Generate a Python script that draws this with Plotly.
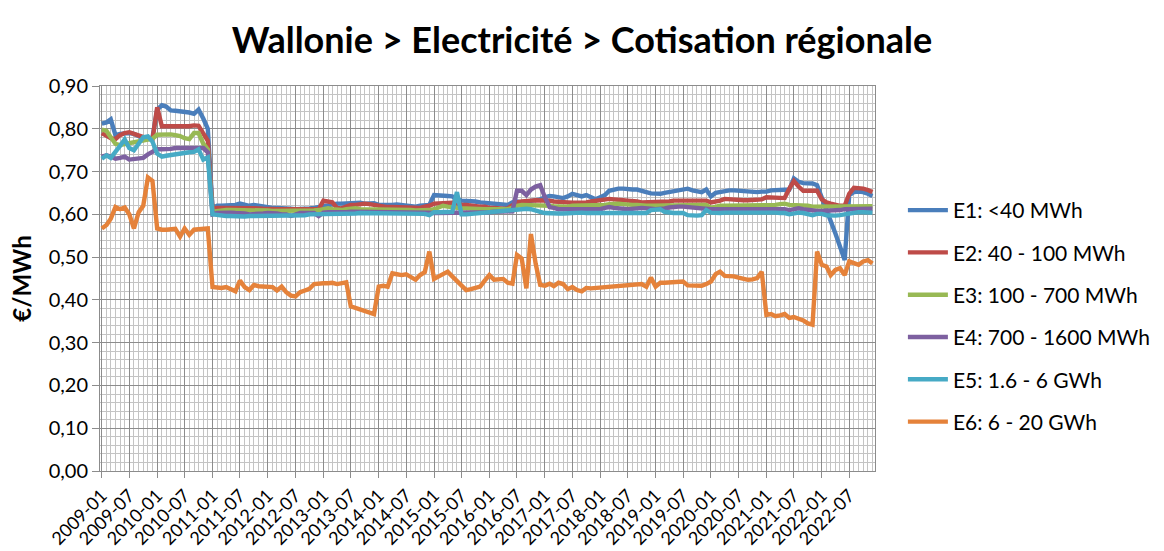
import plotly.graph_objects as go

# ---- categories: monthly, 2009-01 .. 2022-12 ----
months = [f"{y}-{m:02d}-01" for y in range(2009, 2023) for m in range(1, 13)]
tick_labels = [f"{y}-{m:02d}" for y in range(2009, 2023) for m in (1, 7)]
tick_dates = [f"{t}-01" for t in tick_labels]

series_names = ["E1: <40 MWh", "E2: 40 - 100 MWh", "E3: 100 - 700 MWh",
                "E4: 700 - 1600 MWh", "E5: 1.6 - 6 GWh", "E6: 6 - 20 GWh"]
colors = ["#4A7EBB", "#BE4B48", "#98B954", "#7D60A0", "#46AAC5", "#E5823A"]

e1 = [0.812, 0.815, 0.822, 0.785, 0.788, 0.79, 0.79, 0.788, 0.782, 0.778, 0.776, 0.78,
      0.845, 0.855, 0.852, 0.843, 0.842, 0.841, 0.841, 0.838, 0.835, 0.845, 0.824, 0.80,
      0.615, 0.62, 0.62, 0.62, 0.62, 0.622, 0.625, 0.622, 0.62, 0.622, 0.62, 0.618,
      0.618, 0.615, 0.615, 0.615, 0.615, 0.613, 0.612, 0.612, 0.613, 0.614, 0.615, 0.617,
      0.62, 0.62, 0.622, 0.625, 0.625, 0.626, 0.626, 0.627, 0.627, 0.625, 0.625, 0.626,
      0.622, 0.622, 0.62, 0.622, 0.623, 0.622, 0.622, 0.62, 0.618, 0.62, 0.62, 0.622,
      0.645, 0.645, 0.643, 0.643, 0.642, 0.635, 0.632, 0.632, 0.63, 0.63, 0.628, 0.627,
      0.625, 0.625, 0.624, 0.622, 0.622, 0.628, 0.63, 0.628, 0.63, 0.632, 0.635, 0.635,
      0.64, 0.643, 0.642, 0.64, 0.638, 0.642, 0.648, 0.645, 0.642, 0.645, 0.64, 0.635,
      0.64, 0.645, 0.655, 0.658, 0.66, 0.66, 0.658, 0.658, 0.658, 0.656, 0.652, 0.649,
      0.648, 0.648, 0.65, 0.652, 0.655, 0.658, 0.66, 0.66, 0.656, 0.653, 0.652, 0.658,
      0.642, 0.65, 0.652, 0.655, 0.656, 0.656, 0.655, 0.655, 0.654, 0.653, 0.652, 0.653,
      0.653, 0.656, 0.657, 0.657, 0.657, 0.658, 0.684, 0.676, 0.673, 0.673, 0.672, 0.668,
      0.64, 0.615, 0.585, 0.555, 0.525, 0.493, 0.645, 0.652, 0.653, 0.652, 0.648, 0.643]

e2 = [0.79, 0.785, 0.778, 0.776, 0.785, 0.79, 0.792, 0.788, 0.784, 0.78, 0.777, 0.775,
      0.85, 0.806, 0.805, 0.806, 0.806, 0.807, 0.806, 0.806, 0.808, 0.807, 0.79, 0.772,
      0.612, 0.615, 0.615, 0.615, 0.615, 0.615, 0.616, 0.615, 0.614, 0.614, 0.614, 0.613,
      0.612, 0.612, 0.612, 0.612, 0.612, 0.611, 0.611, 0.612, 0.612, 0.612, 0.612, 0.612,
      0.632, 0.63, 0.628, 0.615, 0.614, 0.618, 0.622, 0.622, 0.624, 0.625, 0.624, 0.622,
      0.62, 0.618, 0.617, 0.617, 0.617, 0.617, 0.617, 0.616, 0.615, 0.615, 0.618, 0.62,
      0.625, 0.626, 0.627, 0.628, 0.627, 0.625, 0.622, 0.622, 0.62, 0.62, 0.618, 0.618,
      0.615, 0.615, 0.613, 0.613, 0.614, 0.62, 0.628, 0.63, 0.632, 0.632, 0.633, 0.633,
      0.632, 0.632, 0.63, 0.63, 0.628, 0.628, 0.627, 0.627, 0.626, 0.628, 0.63, 0.632,
      0.633, 0.635, 0.636, 0.635, 0.635, 0.633, 0.632, 0.632, 0.63, 0.628, 0.628, 0.628,
      0.628, 0.628, 0.63, 0.63, 0.632, 0.632, 0.632, 0.63, 0.63, 0.63, 0.632, 0.632,
      0.628, 0.629, 0.632, 0.636, 0.635, 0.633, 0.633, 0.633, 0.633, 0.633, 0.633, 0.635,
      0.64, 0.64, 0.64, 0.64, 0.638, 0.66, 0.678, 0.665, 0.655, 0.655, 0.655, 0.655,
      0.635, 0.628, 0.625, 0.622, 0.62, 0.62, 0.648, 0.662, 0.662, 0.66, 0.657, 0.652]

e3 = [0.798, 0.795, 0.78, 0.765, 0.762, 0.764, 0.766, 0.768, 0.77, 0.773, 0.775, 0.777,
      0.786, 0.787, 0.787, 0.787, 0.785, 0.783, 0.778, 0.776, 0.79, 0.79, 0.765, 0.752,
      0.606, 0.608, 0.61, 0.61, 0.61, 0.61, 0.61, 0.611, 0.61, 0.61, 0.61, 0.609,
      0.609, 0.608, 0.608, 0.608, 0.608, 0.607, 0.607, 0.608, 0.608, 0.609, 0.609, 0.61,
      0.612, 0.614, 0.612, 0.61, 0.61, 0.612, 0.614, 0.614, 0.612, 0.612, 0.611, 0.611,
      0.61, 0.61, 0.61, 0.61, 0.61, 0.61, 0.61, 0.61, 0.609, 0.609, 0.61, 0.61,
      0.612, 0.615, 0.62, 0.618, 0.616, 0.615, 0.614, 0.614, 0.613, 0.613, 0.613, 0.612,
      0.612, 0.612, 0.612, 0.612, 0.612, 0.615, 0.62, 0.622, 0.622, 0.622, 0.622, 0.62,
      0.62, 0.62, 0.619, 0.618, 0.618, 0.618, 0.62, 0.62, 0.62, 0.62, 0.62, 0.62,
      0.62, 0.622, 0.624, 0.625, 0.625, 0.624, 0.622, 0.622, 0.622, 0.62, 0.62, 0.62,
      0.62, 0.62, 0.62, 0.62, 0.62, 0.62, 0.62, 0.62, 0.62, 0.622, 0.622, 0.622,
      0.615, 0.618, 0.62, 0.62, 0.62, 0.62, 0.62, 0.62, 0.62, 0.62, 0.62, 0.62,
      0.62, 0.62, 0.622, 0.624, 0.625, 0.622, 0.622, 0.62, 0.62, 0.62, 0.618, 0.618,
      0.617, 0.617, 0.617, 0.617, 0.618, 0.618, 0.618, 0.618, 0.618, 0.619, 0.619, 0.619]

e4 = [0.735, 0.738, 0.735, 0.73, 0.732, 0.735, 0.728, 0.73, 0.732, 0.732, 0.74, 0.745,
      0.752, 0.752, 0.752, 0.753, 0.755, 0.755, 0.755, 0.755, 0.754, 0.755, 0.755, 0.745,
      0.6, 0.603, 0.604, 0.604, 0.604, 0.603, 0.603, 0.602, 0.6, 0.6, 0.602, 0.602,
      0.603, 0.603, 0.602, 0.6, 0.6, 0.596, 0.6, 0.603, 0.603, 0.603, 0.603, 0.596,
      0.604, 0.605, 0.605, 0.603, 0.603, 0.605, 0.606, 0.606, 0.606, 0.605, 0.605, 0.605,
      0.605, 0.605, 0.605, 0.605, 0.605, 0.605, 0.605, 0.604, 0.604, 0.604, 0.604, 0.604,
      0.603, 0.603, 0.603, 0.603, 0.603, 0.604, 0.604, 0.604, 0.605, 0.605, 0.605, 0.605,
      0.605, 0.606, 0.606, 0.607, 0.607, 0.607, 0.655, 0.655, 0.645, 0.658, 0.665, 0.668,
      0.64, 0.617, 0.615, 0.612, 0.612, 0.612, 0.613, 0.614, 0.614, 0.613, 0.613, 0.612,
      0.612, 0.615, 0.617, 0.615, 0.613, 0.613, 0.612, 0.612, 0.614, 0.615, 0.615, 0.613,
      0.612, 0.612, 0.614, 0.616, 0.618, 0.618, 0.618, 0.617, 0.616, 0.614, 0.612, 0.612,
      0.612, 0.612, 0.612, 0.612, 0.612, 0.612, 0.613, 0.614, 0.614, 0.613, 0.613, 0.612,
      0.613, 0.612, 0.613, 0.614, 0.612, 0.61, 0.612, 0.614, 0.612, 0.61, 0.608, 0.608,
      0.608, 0.608, 0.608, 0.608, 0.61, 0.612, 0.612, 0.612, 0.613, 0.613, 0.613, 0.613]

e5 = [0.73, 0.738, 0.732, 0.745, 0.76, 0.775, 0.755, 0.75, 0.765, 0.78, 0.782, 0.77,
      0.742, 0.735, 0.737, 0.739, 0.741, 0.742, 0.744, 0.745, 0.746, 0.752, 0.728, 0.733,
      0.6, 0.598, 0.597, 0.596, 0.596, 0.595, 0.595, 0.595, 0.596, 0.596, 0.597, 0.597,
      0.597, 0.597, 0.598, 0.598, 0.598, 0.598, 0.598, 0.598, 0.598, 0.6, 0.6, 0.6,
      0.601, 0.601, 0.6, 0.6, 0.601, 0.602, 0.602, 0.602, 0.603, 0.603, 0.603, 0.603,
      0.603, 0.603, 0.603, 0.603, 0.603, 0.603, 0.603, 0.603, 0.603, 0.602, 0.601, 0.598,
      0.605, 0.605, 0.606, 0.606, 0.606, 0.652, 0.6, 0.6, 0.601, 0.602, 0.603, 0.604,
      0.607, 0.607, 0.608, 0.608, 0.609, 0.61, 0.612, 0.613, 0.613, 0.612, 0.61, 0.606,
      0.603, 0.602, 0.602, 0.602, 0.602, 0.603, 0.604, 0.604, 0.604, 0.603, 0.603, 0.603,
      0.603, 0.603, 0.603, 0.602, 0.602, 0.602, 0.602, 0.602, 0.603, 0.603, 0.603, 0.61,
      0.61, 0.612, 0.606, 0.604, 0.603, 0.603, 0.603, 0.598, 0.597, 0.597, 0.598, 0.61,
      0.604, 0.603, 0.603, 0.604, 0.604, 0.604, 0.604, 0.604, 0.604, 0.605, 0.606, 0.606,
      0.604, 0.604, 0.604, 0.603, 0.603, 0.6, 0.603, 0.604, 0.603, 0.601, 0.598, 0.601,
      0.601, 0.598, 0.597, 0.597, 0.598, 0.6, 0.603, 0.605, 0.605, 0.605, 0.605, 0.604]

e6 = [0.567, 0.575, 0.59, 0.617, 0.612, 0.616, 0.6, 0.567, 0.605, 0.62, 0.686, 0.678,
      0.567, 0.564, 0.564, 0.566, 0.566, 0.548, 0.567, 0.552, 0.564, 0.565, 0.566, 0.567,
      0.43, 0.428, 0.428, 0.43, 0.426, 0.42, 0.445, 0.43, 0.423, 0.435, 0.432, 0.431,
      0.432, 0.43, 0.422, 0.431, 0.418, 0.41, 0.408, 0.418, 0.422, 0.426, 0.437, 0.439,
      0.439, 0.439, 0.44, 0.437, 0.44, 0.441, 0.385, 0.381, 0.378, 0.374, 0.369, 0.367,
      0.431, 0.433, 0.431, 0.462, 0.46, 0.458, 0.46, 0.452, 0.447, 0.458, 0.465, 0.513,
      0.449, 0.455, 0.46, 0.466, 0.455, 0.445, 0.435, 0.423, 0.425, 0.428, 0.431, 0.445,
      0.458, 0.447, 0.449, 0.449, 0.44, 0.438, 0.505, 0.497, 0.427, 0.554, 0.485, 0.435,
      0.433, 0.438, 0.432, 0.44, 0.437, 0.425, 0.43, 0.423, 0.42, 0.428, 0.427, 0.428,
      0.43, 0.431, 0.431, 0.432, 0.433, 0.434, 0.434, 0.435, 0.436, 0.437, 0.431, 0.452,
      0.431, 0.44, 0.44, 0.441, 0.442, 0.443, 0.443, 0.434, 0.433, 0.433, 0.433, 0.437,
      0.443, 0.46, 0.466, 0.456, 0.456, 0.455, 0.452, 0.449, 0.447, 0.448, 0.451, 0.466,
      0.365, 0.367, 0.362, 0.364, 0.367, 0.358, 0.36, 0.356, 0.352, 0.345, 0.342, 0.513,
      0.482, 0.478, 0.458, 0.47, 0.474, 0.458, 0.49, 0.486, 0.482, 0.49, 0.493, 0.485]

series = [e1, e2, e3, e4, e5, e6]

FONT = "Lato, 'Open Sans', sans-serif"
MAJOR = "#8C8C8C"
MINOR = "#C4C4C4"

fig = go.Figure()
for name, vals, col in zip(series_names, series, colors):
    fig.add_trace(go.Scatter(x=months, y=vals, mode="lines", name=name,
                             legendgroup=name,
                             line=dict(color=col, width=4.4)))

fig.update_layout(
    width=1164, height=551,
    margin=dict(l=100, r=289, t=86, b=80, autoexpand=False),
    paper_bgcolor="white", plot_bgcolor="white",
    separators=", ",
    font=dict(family=FONT, size=16, color="#000000"),
    title=dict(text="<b>Wallonie > Electricité > Cotisation régionale</b>",
               x=0.5, xref="container", xanchor="center",
               y=1 - 40 / 551, yref="container", yanchor="middle",
               font=dict(family=FONT, size=36, color="#000000")),
    showlegend=True,
    legend=dict(x=1.036, xanchor="left", y=0.73, yanchor="top",
                font=dict(family=FONT, size=21, color="#000000"),
                itemwidth=40,
                tracegroupgap=12, bgcolor="rgba(0,0,0,0)"),
    xaxis=dict(type="date", range=["2008-12-20", "2022-12-18"],
               tickvals=tick_dates, ticktext=tick_labels, tickangle=-45,
               tickfont=dict(family=FONT, size=18),
               ticks="outside", ticklen=6, tickcolor=MAJOR,
               showgrid=True, gridcolor=MAJOR, gridwidth=1,
               minor=dict(dtick="M1", tick0="2009-01-01", showgrid=True,
                          gridcolor=MINOR, gridwidth=1),
               showline=True, linecolor=MAJOR, linewidth=1, mirror=True,
               zeroline=False, automargin=False),
    yaxis=dict(range=[0, 0.9], dtick=0.1, tick0=0, tickformat=".2f",
               tickfont=dict(family=FONT, size=20),
               ticks="outside", ticklen=7, tickcolor=MAJOR,
               showgrid=True, gridcolor=MAJOR, gridwidth=1,
               minor=dict(dtick=0.02, tick0=0, showgrid=True,
                          gridcolor=MINOR, gridwidth=1),
               showline=True, linecolor=MAJOR, linewidth=1, mirror=True,
               zeroline=False, automargin=False,
               title=dict(text="<b>€/MWh</b>", standoff=10,
                          font=dict(family=FONT, size=24))),
)

fig.write_html("out.html", config={"displayModeBar": False},
               post_script="document.body.style.margin='0';")
